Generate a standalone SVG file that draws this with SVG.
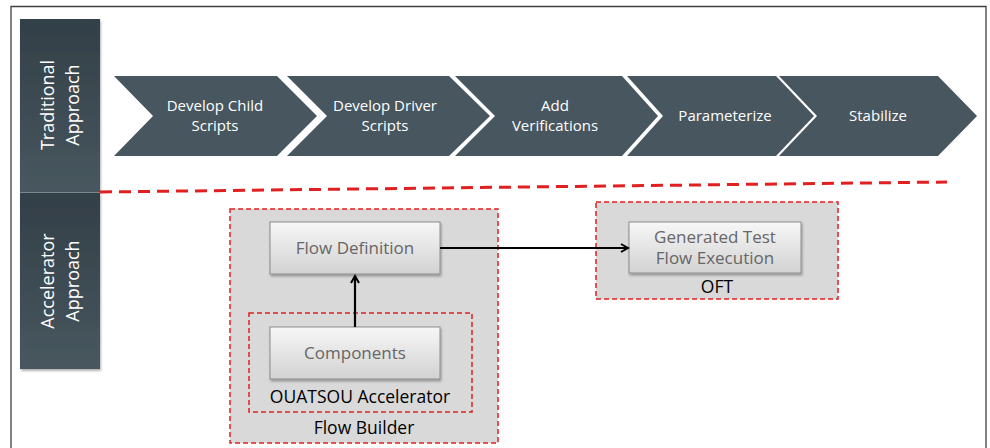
<svg xmlns="http://www.w3.org/2000/svg" width="990" height="448" viewBox="0 0 990 448">
<style>
.side{fill:url(#sideg)}
.sidetxt{font-family:"Open Sans","DejaVu Sans",sans-serif;font-size:18px;fill:#ffffff;text-anchor:middle}
.chev{fill:#47565f}
.chevtxt{font-family:"Open Sans","DejaVu Sans",sans-serif;font-size:15px;fill:#ffffff;text-anchor:middle}
.grp{fill:#d9d9d9;stroke:#e02020;stroke-width:1.5;stroke-dasharray:5 3}
.inner{fill:none;stroke:#e02020;stroke-width:1.5;stroke-dasharray:5 3}
.box{fill:url(#boxg);stroke:#8c8c8c;stroke-width:1;filter:url(#sh)}
.boxtxt{font-family:"Open Sans","DejaVu Sans",sans-serif;font-size:17px;fill:#666666;text-anchor:middle}
.lbl{font-family:"Open Sans","DejaVu Sans",sans-serif;font-size:17.5px;fill:#000000;text-anchor:middle}
.conn{stroke:#000;stroke-width:2.2;fill:none}
</style>
<defs>
<linearGradient id="sideg" x1="0" y1="0" x2="0" y2="1">
<stop offset="0" stop-color="#323f47"/>
<stop offset="1" stop-color="#48575f"/>
</linearGradient>
<linearGradient id="boxg" x1="0" y1="0" x2="0" y2="1">
<stop offset="0" stop-color="#f7f7f7"/>
<stop offset="1" stop-color="#d2d2d2"/>
</linearGradient>
<filter id="sh" x="-10%" y="-10%" width="125%" height="130%">
<feDropShadow dx="1" dy="2" stdDeviation="1.2" flood-color="#000" flood-opacity="0.3"/>
</filter>
<marker id="arr" markerWidth="10" markerHeight="10" refX="8" refY="5" orient="auto" markerUnits="userSpaceOnUse">
<path d="M1,1 L8,5 L1,9" fill="none" stroke="#000" stroke-width="2"/>
</marker>
</defs>
<rect x="0" y="0" width="990" height="448" fill="#ffffff"/>
<path d="M11,448 L11,6.5 L986,6.5 L986,448" fill="none" stroke="#404040" stroke-width="1.3"/>

<g id="traditional-approach">
<rect class="side" x="20" y="19" width="80" height="173" filter="url(#sh)"/>
<text class="sidetxt" transform="translate(54,105) rotate(-90)">Traditional</text>
<text class="sidetxt" transform="translate(79,105) rotate(-90)">Approach</text>
</g>
<g id="accelerator-approach">
<rect class="side" x="20" y="193" width="80" height="176" filter="url(#sh)"/>
<line x1="20" y1="192.5" x2="100" y2="192.5" stroke="#7a868c" stroke-width="1"/>
<text class="sidetxt" transform="translate(54,281) rotate(-90)">Accelerator</text>
<text class="sidetxt" transform="translate(79,281) rotate(-90)">Approach</text>
</g>

<g id="chev1">
<polygon class="chev" points="114,76 277,76 317,116 277,156 114,156 153,116"/>
<text class="chevtxt" x="215" y="111">Develop Child</text>
<text class="chevtxt" x="215" y="131">Scripts</text>
</g>
<g id="chev2">
<polygon class="chev" points="287,76 449,76 490,116 449,156 287,156 327,116"/>
<text class="chevtxt" x="385" y="111">Develop Driver</text>
<text class="chevtxt" x="385" y="131">Scripts</text>
</g>
<g id="chev3">
<polygon class="chev" points="455,76 622,76 658,116 622,156 455,156 495,116"/>
<text class="chevtxt" x="555" y="111">Add</text>
<text class="chevtxt" x="555" y="131">Verifications</text>
</g>
<g id="chev4">
<polygon class="chev" points="627,76 776,76 814,116 776,156 627,156 663,116"/>
<text class="chevtxt" x="725" y="121">Parameterize</text>
</g>
<g id="chev5">
<polygon class="chev" points="779,76 938,76 977,116 938,156 779,156 817,116"/>
<text class="chevtxt" x="878" y="121">Stabilize</text>
</g>

<line x1="100" y1="192" x2="947" y2="182" stroke="#e02020" stroke-width="3" stroke-dasharray="12 7"/>

<g id="flow-builder">
<rect class="grp" x="230" y="209" width="268" height="234"/>
<text class="lbl" x="364" y="434">Flow Builder</text>
</g>
<g id="ouatsou-accelerator">
<rect class="inner" x="249" y="313" width="223" height="99"/>
<text class="lbl" x="360" y="403">OUATSOU Accelerator</text>
</g>
<g id="flow-definition">
<rect class="box" x="270" y="222" width="170" height="52"/>
<text class="boxtxt" x="355" y="254">Flow Definition</text>
</g>
<g id="components">
<rect class="box" x="270" y="327" width="170" height="52"/>
<text class="boxtxt" x="355" y="359">Components</text>
</g>
<g id="oft">
<rect class="grp" x="596" y="202" width="242" height="97"/>
<text class="lbl" x="717" y="293">OFT</text>
</g>
<g id="generated-test">
<rect class="box" x="629" y="222" width="172" height="51"/>
<text class="boxtxt" x="715" y="243">Generated Test</text>
<text class="boxtxt" x="715" y="264">Flow Execution</text>
</g>

<g id="connectors">
<line class="conn" x1="355" y1="327" x2="355" y2="276" marker-end="url(#arr)"/>
<line class="conn" x1="440" y1="248" x2="628" y2="248" marker-end="url(#arr)"/>
</g>
</svg>
